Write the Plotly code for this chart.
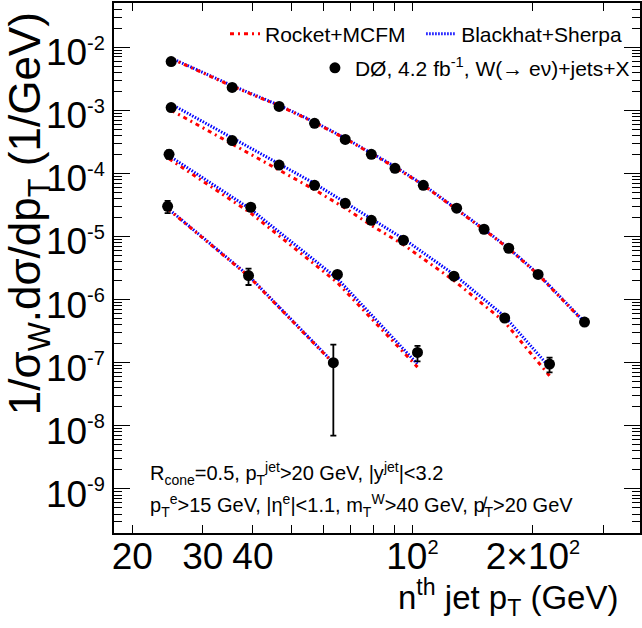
import plotly.graph_objects as go

# ---------------- data ----------------
jet1_pt = [25, 35.5, 46.5, 57, 68, 79, 90.5, 106.5, 129, 151, 174, 206, 269]
jet1_data = [5.9e-3, 2.3e-3, 1.15e-3, 6.2e-4, 3.45e-4, 2.0e-4, 1.2e-4, 6.45e-5, 2.8e-5, 1.3e-5, 6.5e-6, 2.5e-6, 4.4e-7]
jet1_err = [3e-4, 1.2e-4, 6e-5, 3e-5, 1.7e-5, 1e-5, 6e-6, 3.2e-6, 1.4e-6, 7e-7, 4e-7, 1.6e-7, 3.5e-8]
jet1_blackhat = [6.7e-3, 2.45e-3, 1.2e-3, 6.5e-4, 3.6e-4, 2.1e-4, 1.28e-4, 6.6e-5, 2.75e-5, 1.3e-5, 6.5e-6, 2.55e-6, 4.4e-7]
jet1_rocket = [6.6e-3, 2.4e-3, 1.18e-3, 6.4e-4, 3.55e-4, 2.05e-4, 1.25e-4, 6.5e-5, 2.7e-5, 1.28e-5, 6.4e-6, 2.5e-6, 4.3e-7]

jet2_pt = [25, 35.5, 46.5, 57, 68, 79, 95, 127, 170, 220]
jet2_data = [1.1e-3, 3.3e-4, 1.35e-4, 6.45e-5, 3.35e-5, 1.8e-5, 8.7e-6, 2.35e-6, 5.1e-7, 9.5e-8]
jet2_err = [9e-5, 2.5e-5, 1e-5, 5e-6, 2.6e-6, 1.4e-6, 7e-7, 2e-7, 5e-8, 2.5e-8]
jet2_blackhat = [1.25e-3, 3.6e-4, 1.42e-4, 6.9e-5, 3.45e-5, 1.9e-5, 9.2e-6, 2.5e-6, 5.4e-7, 8.5e-8]
jet2_rocket = [1.0e-3, 2.9e-4, 1.15e-4, 5.5e-5, 2.8e-5, 1.5e-5, 7.4e-6, 2.0e-6, 4.4e-7, 6.2e-8]

jet3_pt = [24.7, 39.5, 65, 103]
jet3_data = [2.0e-4, 2.9e-5, 2.5e-6, 1.45e-7]
jet3_err = [3e-5, 3e-6, 2.5e-7, 4e-8]
jet3_blackhat = [1.9e-4, 2.7e-5, 2.15e-6, 9.5e-8]
jet3_rocket = [1.7e-4, 2.35e-5, 1.85e-6, 8.5e-8]

jet4_pt = [24.5, 39, 63.5]
jet4_data = [3.0e-5, 2.4e-6, 1.0e-7]
jet4_err = [6.5e-6, 7e-7, 9.3e-8]
jet4_blackhat = [2.8e-5, 2.4e-6, 1.0e-7]
jet4_rocket = [2.75e-5, 2.35e-6, 9.8e-8]

x_tickvals = [20, 30, 40, 100, 200]
x_ticktext = ["20", "30", "40", "10<sup><span style='font-size:20px'>2</span></sup>",
              "2×10<sup><span style='font-size:20px'>2</span></sup>"]
x_minor = [50, 60, 70, 80, 90, 300]
y_exponents = [-9, -8, -7, -6, -5, -4, -3, -2]
y_minor_digits = [2, 3, 4, 5, 6, 7, 8, 9]
y_minor_exponents = [-10, -9, -8, -7, -6, -5, -4, -3, -2]

FONT = "Liberation Sans, Arial, sans-serif"

series = [
    (jet1_pt, jet1_data, jet1_err, jet1_blackhat, jet1_rocket),
    (jet2_pt, jet2_data, jet2_err, jet2_blackhat, jet2_rocket),
    (jet3_pt, jet3_data, jet3_err, jet3_blackhat, jet3_rocket),
    (jet4_pt, jet4_data, jet4_err, jet4_blackhat, jet4_rocket),
]

fig = go.Figure()
for i, (pt, dat, err, bh, rk) in enumerate(series):
    fig.add_trace(go.Scatter(
        x=pt, y=bh, mode="lines", name="Blackhat+Sherpa",
        line=dict(color="#0000ff", width=3, dash="1.5px,1.5px"),
        showlegend=(i == 0), legend="legend2", legendgroup="bh"))
for i, (pt, dat, err, bh, rk) in enumerate(series):
    fig.add_trace(go.Scatter(
        x=pt, y=rk, mode="lines", name="Rocket+MCFM",
        line=dict(color="#ff0000", width=3, dash="4px,4px,2px,4px"),
        showlegend=(i == 0), legend="legend", legendgroup="rk"))
for i, (pt, dat, err, bh, rk) in enumerate(series):
    fig.add_trace(go.Scatter(
        x=pt, y=dat, mode="markers",
        name="DØ, 4.2 fb<sup>-1</sup>, W(→ eν)+jets+X",
        marker=dict(color="black", size=11, symbol="circle"),
        error_y=dict(type="data", array=err, color="black", thickness=1.8, width=3),
        showlegend=(i == 0), legend="legend3", legendgroup="d0"))

axis_common = dict(
    showgrid=False, zeroline=False, showline=True, linecolor="black", linewidth=1.5,
    mirror="allticks", ticks="inside", tickcolor="black", tickwidth=1.2, automargin=False,
    tickfont=dict(family=FONT, size=37, color="black"),
)

y_minor_vals = [d * 10.0 ** e for e in y_minor_exponents for d in y_minor_digits]

legend_common = dict(xanchor="left", yanchor="middle", bgcolor="rgba(0,0,0,0)", borderwidth=0)

fig.update_layout(
    width=642, height=628,
    margin=dict(l=114, r=2, t=3, b=95, autoexpand=False),
    paper_bgcolor="white", plot_bgcolor="white",
    font=dict(family=FONT, color="black"),
    xaxis=dict(type="log", range=[1.2553, 2.5682],
               tickmode="array", tickvals=x_tickvals, ticktext=x_ticktext, ticklen=8,
               ticklabelstandoff=-10,
               minor=dict(tickmode="array", tickvals=x_minor, ticks="inside", ticklen=8,
                          tickcolor="black", tickwidth=1.2),
               **axis_common),
    yaxis=dict(type="log", range=[-9.699, -1.301],
               tickmode="array", tickvals=[10.0 ** e for e in y_exponents],
               ticktext=["10<sup><span style='font-size:20px'>%d</span></sup>" % e for e in y_exponents],
               ticklen=16, ticklabelshift=5,
               minor=dict(tickmode="array", tickvals=y_minor_vals, ticks="inside", ticklen=8,
                          tickcolor="black", tickwidth=1.2),
               **axis_common),
    legend=dict(x=0.211, y=0.9415, font=dict(family=FONT, size=21, color="black"), **legend_common),
    legend2=dict(x=0.584, y=0.9415, font=dict(family=FONT, size=21, color="black"), **legend_common),
    legend3=dict(x=0.382, y=0.877, font=dict(family=FONT, size=21, color="black"), **legend_common),
    annotations=[
        dict(text="n<sup>th</sup> jet p<sub>T</sub> (GeV)", xref="paper", yref="paper",
             x=0.962, y=-0.122, xanchor="right", yanchor="middle", showarrow=False,
             font=dict(family=FONT, size=33, color="black")),
        dict(text="1/σ<sub>W</sub>.dσ/dp<sub>T</sub> (1/GeV)", xref="paper", yref="paper",
             x=-0.162, y=0.603, xanchor="center", yanchor="middle", textangle=-90, showarrow=False,
             font=dict(family=FONT, size=44, color="black")),
        dict(text="R<sub>cone</sub>=0.5, p<sub>T</sub><sup>jet</sup>&gt;20 GeV, |y<sup>jet</sup>|&lt;3.2",
             xref="paper", yref="paper", x=0.0646, y=0.113, xanchor="left", yanchor="middle",
             showarrow=False, font=dict(family=FONT, size=20, color="black")),
        dict(text="p<sub>T</sub><sup>e</sup>&gt;15 GeV, |η<sup>e</sup>|&lt;1.1, m<sub>T</sub><sup>W</sup>&gt;40 GeV, p̸<sub>T</sub>&gt;20 GeV",
             xref="paper", yref="paper", x=0.0646, y=0.0528, xanchor="left", yanchor="middle",
             showarrow=False, font=dict(family=FONT, size=20, color="black")),
    ],
)

fig.write_html("out.html", config={"displayModeBar": False},
               post_script="document.body.style.margin='0px';")
